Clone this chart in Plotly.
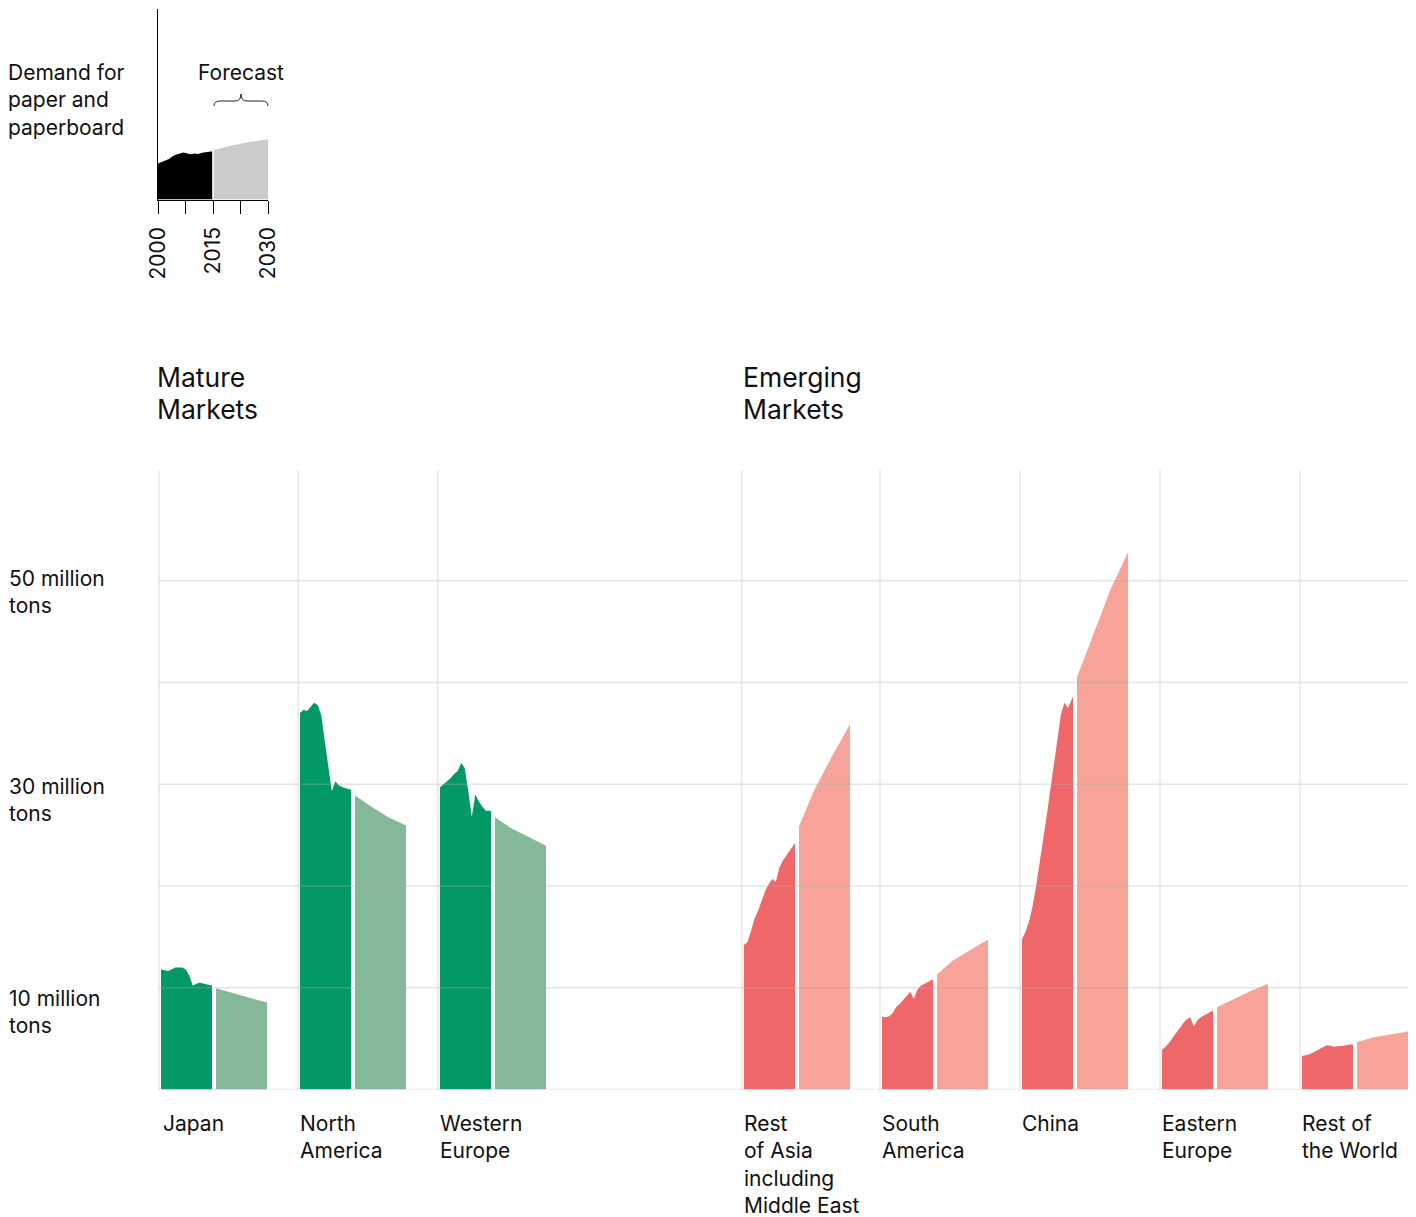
import plotly.graph_objects as go

# ---------------- data ----------------
HIST_YEARS = list(range(2000, 2016))
FC_YEARS = [2015, 2020, 2025, 2030]

REGIONS = ["Japan", "North<br>America", "Western<br>Europe",
           "Rest<br>of Asia<br>including<br>Middle East", "South<br>America",
           "China", "Eastern<br>Europe", "Rest of<br>the World"]
GROUP = ["mature", "mature", "mature", "emerging", "emerging", "emerging", "emerging", "emerging"]

japan_hist = [11.8, 11.7, 11.65, 11.8, 12.0, 12.0, 12.0, 11.8, 11.2, 10.2, 10.4, 10.5, 10.4, 10.3, 10.25, 10.2]
japan_fc = [10.0, 9.5, 9.0, 8.55]
namerica_hist = [37.0, 37.3, 37.2, 37.6, 38.0, 37.8, 36.8, 34.3, 31.8, 29.3, 30.3, 29.9, 29.7, 29.6, 29.5, 29.3]
namerica_fc = [29.05, 27.85, 26.75, 25.95]
weurope_hist = [29.7, 30.0, 30.3, 30.6, 31.0, 31.3, 32.1, 31.6, 29.3, 26.8, 29.0, 28.3, 27.8, 27.4, 27.4, 27.3]
weurope_fc = [26.9, 25.7, 24.85, 23.95]
restasia_hist = [14.2, 14.5, 15.6, 16.8, 17.6, 18.6, 19.5, 20.2, 20.7, 20.4, 21.8, 22.5, 23.0, 23.5, 24.0, 24.5]
restasia_fc = [25.4, 29.5, 32.8, 35.9]
samerica_hist = [7.15, 7.1, 7.2, 7.5, 8.1, 8.4, 8.8, 9.2, 9.6, 8.9, 9.8, 10.2, 10.4, 10.6, 10.75, 10.8]
samerica_fc = [11.15, 12.65, 13.7, 14.75]
china_hist = [14.8, 15.5, 16.5, 18.0, 20.0, 22.2, 24.6, 26.9, 29.4, 32.0, 34.4, 36.8, 38.0, 37.5, 38.3, 39.0]
china_fc = [40.0, 44.5, 49.1, 52.8]
eeurope_hist = [3.9, 4.2, 4.6, 5.1, 5.6, 6.0, 6.5, 6.9, 7.1, 6.2, 6.8, 7.1, 7.3, 7.5, 7.7, 7.8]
eeurope_fc = [8.0, 8.85, 9.65, 10.4]
restworld_hist = [3.3, 3.35, 3.45, 3.6, 3.8, 4.0, 4.2, 4.35, 4.3, 4.2, 4.25, 4.25, 4.3, 4.4, 4.45, 4.45]
restworld_fc = [4.6, 5.1, 5.4, 5.7]

HIST = [japan_hist, namerica_hist, weurope_hist, restasia_hist,
        samerica_hist, china_hist, eeurope_hist, restworld_hist]
FC = [japan_fc, namerica_fc, weurope_fc, restasia_fc,
      samerica_fc, china_fc, eeurope_fc, restworld_fc]

# key (index) chart
key_hist = [18.9, 19.5, 20.5, 21.3, 22.8, 23.6, 24.3, 24.7, 24.2, 23.8, 24.2, 23.9, 24.6, 25.0, 25.2, 25.4]
key_fc = [25.9, 28.4, 30.2, 31.7]
KEY_TICKS = [2000, 2007.5, 2015, 2022.5, 2030]
KEY_TICKTEXT = ["2000", "", "2015", "", "2030"]

Y_GRID = [0, 10, 20, 30, 40, 50]
Y_LABELS = {50: "50 million<br>tons", 30: "30 million<br>tons", 10: "10 million<br>tons"}
GROUP_TITLES = [("Mature", "Markets"), ("Emerging", "Markets")]

# ---------------- styles / layout ----------------
W, H = 1416, 1217
def px(x): return x / W
def py(y): return 1 - y / H

COLORS = {"mature": ("#029966", "#85b899"), "emerging": ("#f0676a", "#f7a399")}
FONT = "Inter, Liberation Sans, Arial, sans-serif"
FS = 21
FS_TITLE = 26.5
TXT = "#111"
GRID_COLOR = "rgba(170,170,170,0.32)"
COL_GRID_PX = [159, 298, 438, 742, 880, 1020, 1160, 1300]
Y0_PX, YTOP_PX, PX_PER_UNIT = 1089.5, 470, 10.175
YMAX = (Y0_PX - YTOP_PX) / PX_PER_UNIT

fig = go.Figure()
layout = dict(
    width=W, height=H, margin=dict(l=0, r=0, t=0, b=0, pad=0, autoexpand=False),
    paper_bgcolor="white", plot_bgcolor="rgba(0,0,0,0)",
    showlegend=False, font=dict(family=FONT, size=FS, color=TXT),
    yaxis=dict(domain=[py(Y0_PX), py(YTOP_PX)], range=[0, YMAX], visible=False,
               anchor="free", position=0, fixedrange=True),
)
shapes = []
annotations = []

for i in range(8):
    ax = f"x{i + 2}"
    axname = f"xaxis{i + 2}"
    g = COL_GRID_PX[i]
    layout[axname] = dict(domain=[px(g + 2), px(g + 108)], range=[2000, 2030],
                          visible=False, anchor="y", fixedrange=True)
    dark, light = COLORS[GROUP[i]]
    fig.add_trace(go.Scatter(x=HIST_YEARS, y=HIST[i], xaxis=ax, yaxis="y",
                             mode="lines", line=dict(width=0, color=dark),
                             fill="tozeroy", fillcolor=dark, hoverinfo="skip"))
    fig.add_trace(go.Scatter(x=FC_YEARS, y=FC[i], xaxis=ax, yaxis="y",
                             mode="lines", line=dict(width=0, color=light),
                             fill="tozeroy", fillcolor=light, hoverinfo="skip"))
    top = max(HIST[i][-1], FC[i][0]) + 1
    shapes.append(dict(type="line", xref=ax, yref="y", x0=2015, x1=2015, y0=0, y1=top,
                       line=dict(color="white", width=4), layer="above"))
    # vertical grid line
    shapes.append(dict(type="line", xref="paper", yref="paper", x0=px(g), x1=px(g),
                       y0=py(Y0_PX + 1), y1=py(YTOP_PX),
                       line=dict(color=GRID_COLOR, width=1.3), layer="above"))
    annotations.append(dict(text=REGIONS[i], xref=ax, yref="paper", x=2000, y=py(1109),
                            xanchor="left", yanchor="top", showarrow=False, align="left",
                            xshift=-2 if i > 0 else 0,
                            font=dict(size=FS, family=FONT, color=TXT)))

for v in Y_GRID:
    shapes.append(dict(type="line", xref="paper", yref="y", x0=px(159), x1=px(1408),
                       y0=v, y1=v, line=dict(color=GRID_COLOR, width=1.3), layer="above"))

label_centers = {50: 578, 30: 786, 10: 998}
for v, t in Y_LABELS.items():
    annotations.append(dict(text=t, xref="paper", yref="paper", x=px(7), y=py(label_centers[v] - 14),
                            xanchor="left", yanchor="top", showarrow=False, align="left",
                            font=dict(size=FS, family=FONT, color=TXT)))

for (l1, l2), x0 in zip(GROUP_TITLES, [155, 741]):
    for line_txt, yc in [(l1, 377), (l2, 409)]:
        annotations.append(dict(text=line_txt, xref="paper", yref="paper", x=px(x0), y=py(yc),
                                xanchor="left", yanchor="middle", showarrow=False, align="left",
                                font=dict(size=FS_TITLE, family=FONT, color=TXT)))

# ---------------- key chart ----------------
layout["xaxis"] = dict(domain=[px(158), px(268)], range=[2000, 2030], anchor="y2",
                       showline=True, linecolor="black", linewidth=1, showgrid=False, zeroline=False,
                       ticks="outside", ticklen=13, tickcolor="black", tickwidth=1,
                       tickvals=KEY_TICKS, ticktext=KEY_TICKTEXT, tickangle=-90,
                       ticklabelstandoff=5,
                       tickfont=dict(size=FS, family=FONT, color=TXT), fixedrange=True)
layout["yaxis2"] = dict(domain=[py(199.5), py(9.3)], range=[0, 100], anchor="x",
                        showline=True, linecolor="black", linewidth=1, showgrid=False,
                        zeroline=False, showticklabels=False, ticks="", fixedrange=True)
fig.add_trace(go.Scatter(x=HIST_YEARS, y=key_hist, xaxis="x", yaxis="y2", mode="lines",
                         line=dict(width=0, color="black"), fill="tozeroy", fillcolor="black",
                         hoverinfo="skip"))
fig.add_trace(go.Scatter(x=FC_YEARS, y=key_fc, xaxis="x", yaxis="y2", mode="lines",
                         line=dict(width=0, color="#cccccc"), fill="tozeroy", fillcolor="#cccccc",
                         hoverinfo="skip"))
shapes.append(dict(type="line", xref="x", yref="y2", x0=2015, x1=2015, y0=0,
                   y1=key_fc[0] + 1, line=dict(color="white", width=1.6), layer="above"))

annotations.append(dict(text="Demand for<br>paper and<br>paperboard", xref="paper", yref="paper",
                        x=px(6), y=py(58), xanchor="left", yanchor="top", showarrow=False,
                        align="left", font=dict(size=FS, family=FONT, color=TXT)))
annotations.append(dict(text="Forecast", xref="paper", yref="paper", x=px(241), y=py(58),
                        xanchor="center", yanchor="top", showarrow=False,
                        font=dict(size=FS, family=FONT, color=TXT)))

# curly brace over forecast
def P(x, y):
    return f"{px(x):.6f},{py(y):.6f}"
brace = (f"M {P(214,106)} Q {P(214,101)} {P(220,101)} L {P(235,101)} "
         f"Q {P(241,101)} {P(241,94)} Q {P(241,101)} {P(247,101)} L {P(262,101)} "
         f"Q {P(268,101)} {P(268,106)}")
shapes.append(dict(type="path", xref="paper", yref="paper", path=brace,
                   line=dict(color="#222", width=1)))

layout["shapes"] = shapes
layout["annotations"] = annotations
fig.update_layout(**layout)
fig.write_html("out.html", config={"displayModeBar": False, "staticPlot": True},
               post_script="document.body.style.margin='0';document.body.style.overflow='hidden';")
